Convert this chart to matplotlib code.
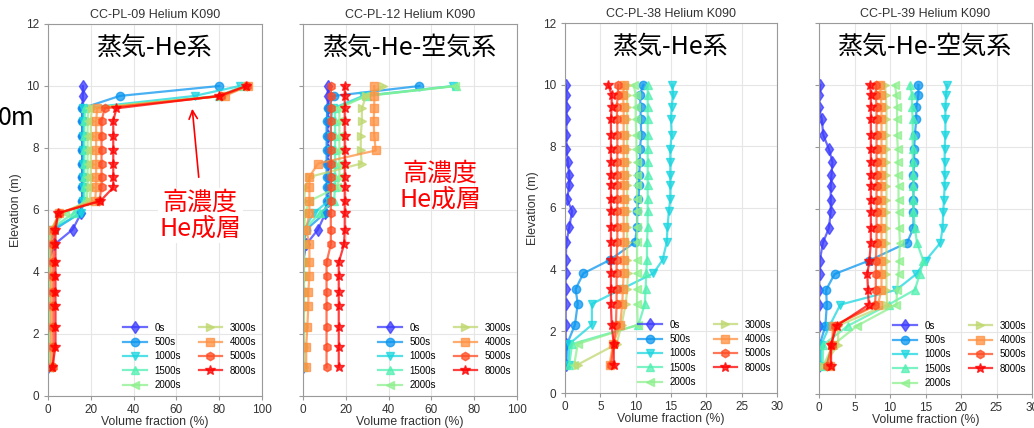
import matplotlib
matplotlib.use("Agg")
import matplotlib.pyplot as plt

plt.rcParams['font.family'] = ['Liberation Sans', 'DejaVu Sans']

# elevations of the measuring points (m)
heights = [0.92, 1.59, 2.21, 2.89, 3.37, 3.88, 4.31, 4.89, 5.37, 5.90,
           6.29, 6.73, 7.07, 7.50, 7.92, 8.38, 8.88, 9.28, 9.68, 10.0]

times = ['0s', '500s', '1000s', '1500s', '2000s', '3000s', '4000s', '5000s', '8000s']
colors = ['#3a3aff', '#0a96f0', '#1ad6e0', '#50f0b0', '#8ef08e',
          '#c0d870', '#ff9040', '#ff4a20', '#ff0000']
markers = ['d', 'o', 'v', '^', '<', '>', 's', 'h', '*']

titles = ['CC-PL-09 Helium K090', 'CC-PL-12 Helium K090',
          'CC-PL-38 Helium K090', 'CC-PL-39 Helium K090']
labels_jp = ['蒸気-He系', '蒸気-He-空気系', '蒸気-He系', '蒸気-He-空気系']
xmax = [100, 100, 30, 30]

# CC-PL-09
pl09 = [
    [0, 0, 0, 0, 0, 0, 0, 3, 11.5, 15.5, 16, 16, 16, 16, 16, 16, 16, 16, 16.3, 16.3],
    [0, 0, 0, 0, 0, 0, 0, 0.5, 3, 15, 16, 16, 16, 16, 16, 16, 16, 16, 33.5, 80],
    [0, 0, 0, 0, 0, 0, 0, 0.3, 1.5, 15.5, 16.5, 16.5, 16.5, 16.5, 16.5, 16.5, 16.5, 16.5, 68.5, 89.5],
    [0.3, 0.3, 0.3, 0.3, 0.3, 0.3, 0.3, 0.5, 1, 12, 17, 17, 17, 17, 17, 17, 17, 17.5, 80, 91],
    [0.5, 0.5, 0.5, 0.5, 0.5, 0.5, 0.5, 0.8, 1.2, 8, 18, 18.5, 18.5, 18.5, 18.5, 18.5, 18.5, 19, 81, 92],
    [1, 1, 1, 1, 1, 1, 1, 1, 1.2, 6, 19.5, 20, 20, 20, 20, 20, 20, 20.5, 82, 93],
    [1.5, 1.5, 1.5, 1.5, 1.5, 1.5, 1.5, 1.5, 2, 5, 22, 22.5, 22.5, 22.5, 22.5, 22.5, 22.5, 23, 82.5, 93.5],
    [2.5, 2.5, 2.5, 2.5, 2.5, 2.5, 2.5, 2.5, 2.8, 5, 24, 25, 25, 25, 25, 25, 25, 26.5, 81, 93],
    [2, 3.5, 3.5, 3.5, 3.5, 3.5, 3.5, 3.5, 3.5, 4.8, 24.5, 30.5, 30.5, 30.5, 30.5, 30.5, 30.5, 32, 80, 92.5],
]

# CC-PL-12
pl12 = [
    [0, 0, 0, 0, 0, 0, 0, 1.5, 7, 10.5, 11.5, 11.5, 11.5, 11.5, 11.5, 11.5, 11.5, 11.5, 11.5, 11.7],
    [0, 0, 0, 0, 0, 0, 0, 0.3, 1.5, 10.3, 11, 11, 11, 11, 11, 11, 11, 11.5, 14.4, 54.4],
    [0, 0, 0, 0, 0, 0, 0, 0.2, 0.5, 5, 12, 13, 13, 13, 13, 13, 13, 14, 28, 70],
    [0, 0, 0, 0, 0, 0, 0, 0.2, 0.5, 8, 14.5, 15, 15, 15, 15, 15, 15, 15, 30, 71.5],
    [0.2, 0.2, 0.2, 0.2, 0.2, 0.2, 0.2, 0.3, 0.5, 1, 3, 16, 17, 17, 17, 17, 17, 17, 29, 71],
    [0.5, 0.5, 0.5, 0.5, 0.5, 0.5, 0.5, 0.5, 0.5, 0.5, 0.5, 1, 3.2, 27.4, 27, 27, 27.5, 27.5, 29.5, 37.5],
    [1.5, 1.5, 2, 2.5, 2.5, 3, 3, 3, 1.5, 3, 3, 3, 3, 7, 34, 33.3, 33, 33.3, 33.3, 33.3],
    [11, 11, 11, 11, 11, 11, 11, 13, 13, 13, 13, 13, 13, 13, 13, 13, 13, 13, 13, 13],
    [16.7, 16.7, 16.7, 16.7, 16.7, 16.7, 16.7, 19.2, 19.5, 19.5, 19.5, 19.5, 19.5, 19.5, 19.5, 19.5, 19.5, 19.5, 19.5, 19.5],
]

# CC-PL-38
pl38 = [
    [0.1, 0.1, 0.1, 0.1, 0.1, 0.1, 0.1, 0.2, 0.6, 1.0, 0.3, 0.6, 0.6, 0.4, 0.2, 0.2, 0.2, 0.2, 0.2, 0.1],
    [0.2, 0.3, 1.4, 1.8, 1.5, 2.6, 6.3, 9.9, 10.2, 10.2, 10.4, 10.5, 10.5, 10.6, 10.6, 10.8, 10.7, 10.7, 10.6, 11.1],
    [0.5, 0.6, 3.8, 3.8, 8, 12.5, 13.8, 14.4, 14.5, 14.7, 14.9, 14.9, 14.9, 14.9, 14.9, 15.1, 15.0, 15.1, 15.3, 15.2],
    [0.6, 1.0, 10.4, 11.3, 11.4, 11.5, 11.6, 11.6, 11.7, 11.7, 11.7, 11.7, 11.7, 11.7, 11.7, 11.7, 11.7, 11.7, 11.7, 11.7],
    [1.3, 1.8, 10.3, 10.2, 10.2, 10.2, 10.2, 10.2, 10.2, 10.2, 10.2, 10.2, 10.2, 10.2, 10.1, 10.1, 10.0, 10.0, 10.0, 9.7],
    [1.8, 7.3, 8.0, 8.6, 8.8, 8.9, 8.8, 8.8, 8.8, 8.8, 8.8, 8.8, 8.8, 8.8, 8.8, 8.8, 8.8, 8.8, 8.8, 8.8],
    [6.3, 6.8, 7.8, 8.1, 8.2, 8.3, 8.3, 8.3, 8.3, 8.3, 8.3, 8.3, 8.3, 8.3, 8.3, 8.3, 8.3, 8.3, 8.2, 8.4],
    [6.5, 6.9, 7.2, 7.3, 7.3, 7.3, 7.3, 7.4, 7.4, 7.4, 7.4, 7.4, 7.4, 7.4, 7.4, 7.4, 7.4, 7.3, 7.5, 7.5],
    [6.9, 6.9, 6.6, 6.5, 6.5, 6.5, 6.5, 6.5, 6.5, 6.5, 6.5, 6.5, 6.5, 6.5, 6.5, 6.5, 6.5, 6.6, 6.6, 6.1],
]

# CC-PL-39
pl39 = [
    [0, 0, 0, 0, 0, 0.1, 0.1, 0.55, 1.4, 1.65, 1.65, 1.65, 1.75, 1.9, 1.4, 0.6, 0.4, 0, 0, 0.2],
    [0.1, 0.1, 0.9, 1.1, 1.0, 2.2, 7.0, 12.4, 13.3, 13.3, 13.3, 13.3, 13.3, 13.4, 13.4, 13.5, 13.7, 13.7, 14.0, 14.0],
    [0.3, 0.3, 1.5, 3.0, 10.9, 13.7, 15.0, 17.1, 17.4, 17.5, 17.6, 17.7, 17.7, 17.7, 17.7, 17.8, 17.8, 17.8, 17.9, 18.0],
    [0.5, 0.6, 4.1, 9.8, 13.5, 14.2, 14.7, 13.8, 13.5, 13.3, 13.3, 13.3, 13.3, 13.2, 13.2, 13.2, 13.2, 13.1, 13.1, 12.8],
    [0.6, 2.0, 5.4, 10.9, 11.0, 11.2, 11.3, 11.4, 11.3, 11.2, 11.2, 11.2, 11.1, 11.1, 11.1, 11.0, 11.0, 11.0, 10.9, 10.7],
    [0.6, 2.7, 2.7, 9.6, 9.5, 9.5, 9.5, 9.5, 9.5, 9.5, 9.5, 9.5, 9.5, 9.5, 9.5, 9.5, 9.5, 9.5, 9.4, 9.3],
    [1.5, 1.8, 2.0, 8.3, 8.8, 8.8, 8.8, 8.8, 8.8, 8.8, 8.8, 8.8, 8.8, 8.8, 8.8, 8.8, 8.8, 8.8, 8.7, 8.6],
    [1.1, 1.8, 2.2, 7.9, 8.0, 8.0, 8.0, 8.1, 8.1, 8.1, 8.1, 8.1, 8.1, 8.1, 8.1, 8.1, 8.1, 8.1, 8.0, 8.0],
    [1.7, 1.7, 2.5, 7.0, 6.9, 6.8, 7.1, 7.3, 7.3, 7.3, 7.3, 7.3, 7.3, 7.3, 7.3, 7.3, 7.3, 7.3, 7.3, 7.2],
]

panels = [pl09, pl12, pl38, pl39]

W, H = 1034, 428
fig = plt.figure(figsize=(W / 100, H / 100), dpi=100)

# axes boxes in pixels: left, top, right, bottom
boxes = [(48, 24, 262, 396), (303, 24, 517, 396), (565, 23, 777, 393), (819, 23, 1032, 394)]

jp = ['Noto Sans CJK JP', 'DejaVu Sans']

for i, data in enumerate(panels):
    l, t, r, b = boxes[i]
    ax = fig.add_axes([l / W, 1 - b / H, (r - l) / W, (b - t) / H])
    for j, vals in enumerate(data):
        ax.plot(vals, heights, color=colors[j], marker=markers[j], ms=6 if markers[j] != '*' else 7,
                lw=1.6, alpha=0.75, label=times[j])
    ax.set_xlim(0, xmax[i])
    ax.set_ylim(0, 12)
    ax.set_yticks(range(0, 13, 2))
    ax.set_xticks(range(0, xmax[i] + 1, 20 if xmax[i] == 100 else 5))
    ax.grid(color='#e6e6e6', lw=0.8)
    ax.set_axisbelow(True)
    for s in ax.spines.values():
        s.set_color('#9a9a9a')
    ax.tick_params(colors='#9a9a9a', labelcolor='#333333', labelsize=8.5, length=3)
    ax.tick_params(axis='x', pad=2.5)
    ax.set_xlabel('Volume fraction (%)', fontsize=8.8, color='#333333', labelpad=0)
    if i in (0, 2):
        ax.set_ylabel('Elevation (m)', fontsize=9, color='#333333', labelpad=3)
    else:
        ax.tick_params(labelleft=False)
    ax.set_title(titles[i], fontsize=9, color='#333333', pad=4)
    ax.legend(ncol=2, loc='lower right', frameon=False, fontsize=7, handlelength=2.4,
              columnspacing=1.8, labelspacing=0.45, borderaxespad=0.2)
    ax.text(0.5, 0.935, labels_jp[i], transform=ax.transAxes, ha='center', va='center',
            fontsize=18, family=jp)

# red annotations
fig.text(200 / W, 1 - 216 / H, '高濃度\nHe成層', color='red', fontsize=18, family=jp,
         ha='center', va='center', linespacing=1.0,
         bbox=dict(facecolor='white', edgecolor='none', pad=1))
fig.text(440 / W, 1 - 187 / H, '高濃度\nHe成層', color='red', fontsize=18, family=jp,
         ha='center', va='center', linespacing=1.0)
fig.add_artist(matplotlib.patches.FancyArrowPatch(
    (199 / W, 1 - 180 / H), (192 / W, 1 - 106 / H), transform=fig.transFigure,
    arrowstyle='->,head_length=6,head_width=3', color='red', lw=1.2))

fig.text(-2 / W, 1 - 118 / H, '0m', fontsize=18, family=jp, ha='left', va='center')

fig.savefig('out.png', dpi=100)
